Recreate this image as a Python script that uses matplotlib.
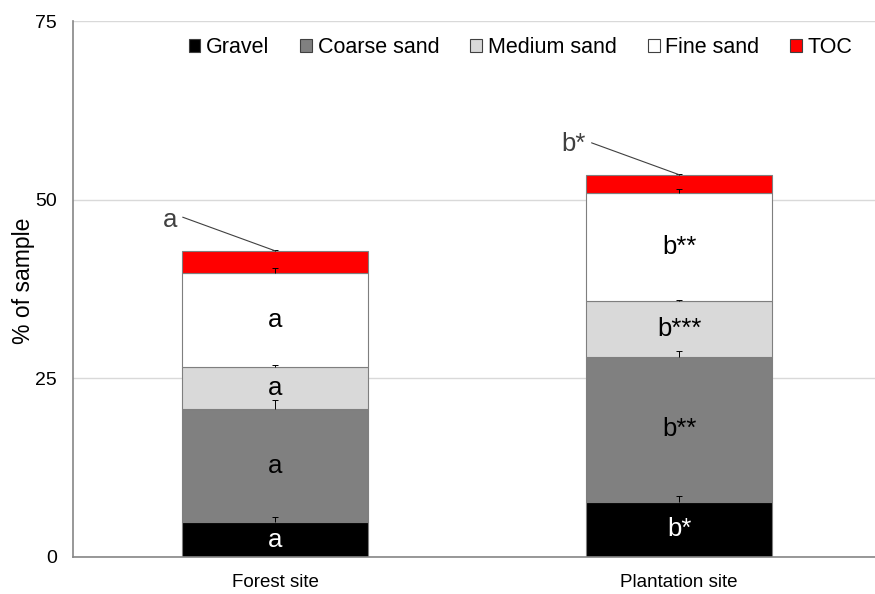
import numpy as np
import matplotlib.pyplot as plt

plt.rcParams['font.family'] = ['Liberation Sans', 'DejaVu Sans']

sites = ['Forest site', 'Plantation site']
fractions = ['Gravel', 'Coarse sand', 'Medium sand', 'Fine sand', 'TOC']
colors = ['#000000', '#808080', '#d9d9d9', '#ffffff', '#ff0000']

# mean share of each fraction (% of sample), stacked bottom to top
gravel = [4.85, 7.75]
coarse = [15.85, 20.25]
medium = [5.9, 7.8]
fine = [13.2, 15.2]
toc = [3.05, 2.5]

# standard errors (upper bar only)
gravel_se = [0.8, 0.8]
coarse_se = [1.3, 0.8]
medium_se = [0.3, 0.15]
fine_se = [0.6, 0.5]
toc_se = [0.15, 0.15]

# significance letters per segment
gravel_lbl = ['a', 'b*']
coarse_lbl = ['a', 'b**']
medium_lbl = ['a', 'b***']
fine_lbl = ['a', 'b**']
toc_lbl = ['a', 'b*']

values = [gravel, coarse, medium, fine, toc]
errors = [gravel_se, coarse_se, medium_se, fine_se, toc_se]
letters = [gravel_lbl, coarse_lbl, medium_lbl, fine_lbl, toc_lbl]
text_colors = ['white', 'black', 'black', 'black', None]

fig = plt.figure(figsize=(8.75, 5.94), dpi=100)
ax = fig.add_axes([0.0834, 0.0623, 0.9166, 0.9023])

x = np.arange(len(sites))
width = 0.46
bottom = np.zeros(len(sites))
for vals, errs, lbls, col, tcol, name in zip(values, errors, letters, colors,
                                              text_colors, fractions):
    vals = np.array(vals)
    ax.bar(x, vals, width, bottom=bottom, color=col, edgecolor='#7f7f7f',
           linewidth=0.8, label=name, zorder=2)
    top = bottom + vals
    # upper error bar with a cap only at its tip
    ax.errorbar(x, top, yerr=[np.zeros(len(x)), errs], fmt='none',
                ecolor='black', elinewidth=0.7, capsize=0, zorder=3)
    ax.plot(x, top + np.array(errs), ls='none', marker='_', ms=5, mew=0.7,
            color='black', zorder=3)
    if tcol is not None:
        for xi, b, v, t in zip(x, bottom, vals, lbls):
            ax.text(xi, b + v / 2, t, ha='center', va='center', fontsize=18.5,
                    color=tcol, zorder=4)
    else:
        # TOC letters sit outside the bar with a leader line
        for xi, tp, t in zip(x, top, lbls):
            ax.annotate(t, xy=(xi, tp), xytext=(xi - 0.26, tp + 4.3),
                        ha='center', va='center', fontsize=18.5,
                        color='#404040',
                        arrowprops=dict(arrowstyle='-', color='#404040',
                                        lw=0.8, shrinkA=2, shrinkB=0,
                                        relpos=(1.0, 0.62),
                                        connectionstyle='angle,angleA=0,'
                                                        'angleB=160,rad=0'),
                        zorder=4)
    bottom = top

ax.set_xlim(-0.5, 1.485)
ax.set_ylim(0, 75)
ax.set_yticks([0, 25, 50, 75])
ax.set_xticks(x)
ax.set_xticklabels(sites, fontsize=13.5)
ax.tick_params(axis='y', labelsize=14, length=0, pad=11.5)
ax.tick_params(axis='x', length=0, pad=12)
ax.set_ylabel('% of sample', fontsize=16.5)
ax.yaxis.set_label_coords(-0.047, 0.515)
ax.yaxis.grid(True, color='#d9d9d9', linewidth=1)
ax.set_axisbelow(True)
for s in ['top', 'right']:
    ax.spines[s].set_visible(False)
for s in ['left', 'bottom']:
    ax.spines[s].set_color('#868686')
    ax.spines[s].set_linewidth(1.2)

leg = ax.legend(loc='center', bbox_to_anchor=(0.558, 0.951), ncol=5,
                frameon=False, fontsize=15.5, handlelength=0.55,
                handleheight=0.55, handletextpad=0.25, columnspacing=1.45,
                borderaxespad=0)
for h in leg.legend_handles:
    h.set_edgecolor('#404040')

fig.savefig('out.png', dpi=100)
